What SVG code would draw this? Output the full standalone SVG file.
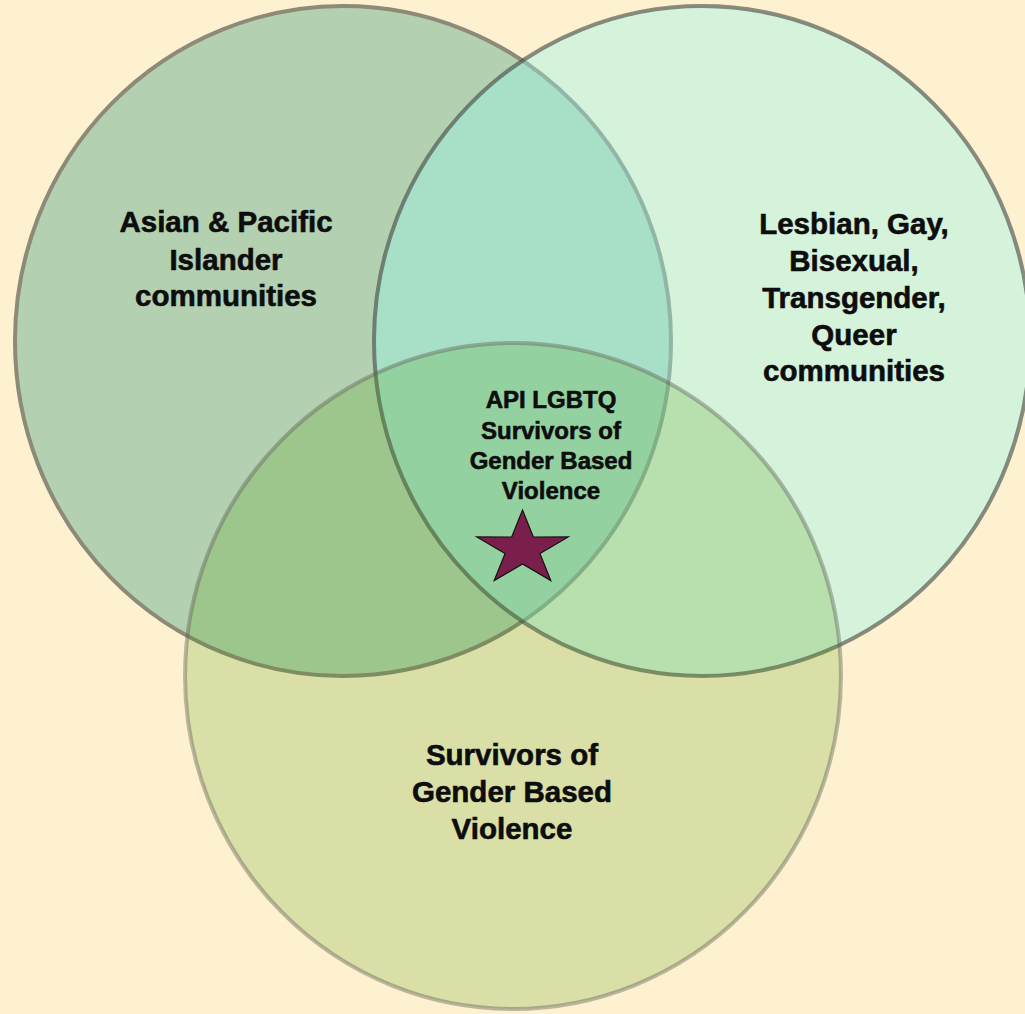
<svg xmlns="http://www.w3.org/2000/svg" width="1025" height="1014" viewBox="0 0 1025 1014">
<style>
.lbl{font-family:"Liberation Sans",Arial,Helvetica,sans-serif;font-weight:bold;fill:#0d0d0d;stroke:#0d0d0d;stroke-width:0.6;text-anchor:middle}
.big{font-size:29.5px}
.mid{font-size:24px}
</style>
<rect x="0" y="0" width="1025" height="1014" fill="#fef1cf"/>
<g id="asian-pacific-islander">
<ellipse cx="343" cy="341" rx="328" ry="335" fill="#b3d1b0" stroke="#8d8a78" stroke-width="4"/>
</g>
<g id="lgbtq">
<ellipse cx="702" cy="341" rx="328" ry="335" fill="rgb(152,246,235)" fill-opacity="0.4" stroke="rgb(66,69,65)" stroke-opacity="0.6" stroke-width="4"/>
</g>
<g id="survivors-gbv">
<ellipse cx="513" cy="676" rx="328" ry="333" fill="rgb(69,156,7)" fill-opacity="0.2" stroke="rgb(91,91,82)" stroke-opacity="0.4" stroke-width="4"/>
</g>
<g id="labels">
<text class="lbl big" x="226" y="232">Asian &amp; Pacific</text>
<text class="lbl big" x="226" y="270">Islander</text>
<text class="lbl big" x="226" y="306">communities</text>
<text class="lbl big" x="854" y="234">Lesbian, Gay,</text>
<text class="lbl big" x="854" y="271">Bisexual,</text>
<text class="lbl big" x="854" y="308">Transgender,</text>
<text class="lbl big" x="854" y="345">Queer</text>
<text class="lbl big" x="854" y="381">communities</text>
<text class="lbl big" x="512" y="765">Survivors of</text>
<text class="lbl big" x="512" y="802">Gender Based</text>
<text class="lbl big" x="512" y="839">Violence</text>
</g>
<g id="api-lgbtq-survivors">
<text class="lbl mid" x="551" y="408">API LGBTQ</text>
<text class="lbl mid" x="551" y="439">Survivors of</text>
<text class="lbl mid" x="551" y="469">Gender Based</text>
<text class="lbl mid" x="551" y="499">Violence</text>
<polygon points="522.5,510 533.3,537 568.3,536.9 540,553.6 550.8,580.6 522.5,563.9 494.2,580.6 505,553.6 476.7,536.9 511.7,537" fill="#7a1f4b" stroke="#111" stroke-width="1.2" stroke-linejoin="miter"/>
</g>
<g id="connectors"></g>
</svg>
